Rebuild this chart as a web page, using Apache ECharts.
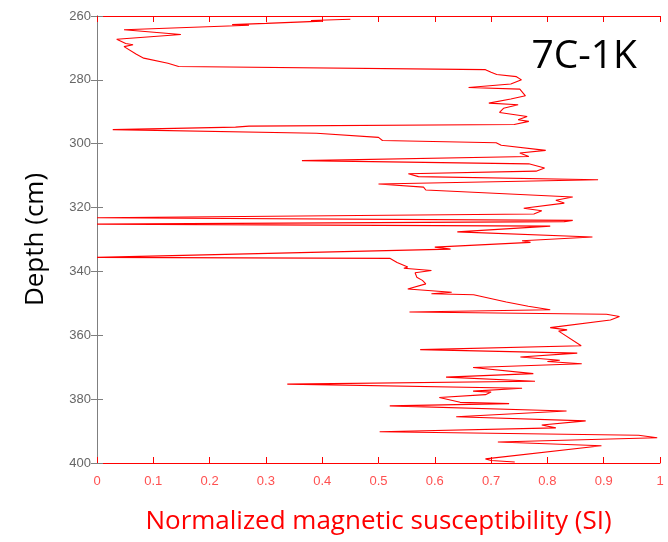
<!DOCTYPE html>
<html>
<head>
<meta charset="utf-8">
<script src="https://cdn.jsdelivr.net/npm/echarts@6/dist/echarts.min.js"></script>
<style>
  html, body { margin: 0; padding: 0; background: #fff; }
  #main { width: 668px; height: 542px; }
</style>
</head>
<body>
<div id="main"></div>
<script>
// 7C-1K core: depth (cm) and normalized susceptibility
var depthCm = [
  261.0, 261.4, 261.6, 262.3, 262.7, 262.9, 264.3, 265.8, 267.3, 268.6,
  269.0, 269.6, 272.0, 273.2, 274.8, 275.8, 276.8, 277.6, 278.3, 279.0,
  280.0, 281.3, 282.4, 282.9, 285.0, 286.0, 287.3, 287.8, 288.9, 290.2,
  291.5, 292.5, 293.0, 294.0, 294.5, 294.8, 295.6, 296.7, 298.0, 299.0,
  299.7, 300.5, 302.1, 302.9, 304.0, 305.3, 306.3, 307.6, 308.6, 309.4,
  310.3, 311.3, 312.6, 313.6, 314.5, 316.7, 317.7, 318.6, 320.2, 321.0,
  322.0, 323.2, 324.0, 324.4, 325.2, 325.8, 327.6, 329.2, 330.4, 330.9,
  332.4, 333.0, 335.6, 335.9, 337.2, 338.6, 339.0, 339.7, 340.4, 341.8,
  342.8, 343.9, 345.5, 346.5, 347.0, 347.3, 349.6, 350.9, 352.0, 352.7,
  353.4, 354.1, 355.2, 357.6, 358.3, 358.7, 363.3, 364.5, 365.6, 366.8,
  367.8, 368.2, 368.9, 370.1, 372.0, 373.1, 374.4, 375.3, 376.6, 377.5,
  377.8, 378.6, 379.5, 381.0, 381.4, 382.1, 383.7, 385.5, 386.8, 388.1,
  389.0, 390.2, 391.3, 392.1, 393.4, 394.6, 398.7, 399.2, 399.7
];
var suscValues = [
  0.45, 0.38, 0.40, 0.30, 0.24, 0.27, 0.048, 0.149, 0.035, 0.051,
  0.064, 0.048, 0.07, 0.083, 0.126, 0.145, 0.69, 0.70, 0.71, 0.745,
  0.754, 0.735, 0.66, 0.751, 0.761, 0.735, 0.696, 0.748, 0.722, 0.715,
  0.764, 0.748, 0.767, 0.741, 0.27, 0.246, 0.028, 0.39, 0.50, 0.507,
  0.709, 0.718, 0.797, 0.751, 0.767, 0.364, 0.767, 0.795, 0.78, 0.553,
  0.571, 0.89, 0.50, 0.58, 0.584, 0.845, 0.815, 0.83, 0.758, 0.79,
  0.776, 0.0, 0.845, 0.83, 0.0, 0.805, 0.64, 0.88, 0.755, 0.77,
  0.60, 0.628, 0.0, 0.52, 0.533, 0.552, 0.545, 0.594, 0.565, 0.568,
  0.578, 0.584, 0.552, 0.63, 0.594, 0.669, 0.727, 0.766, 0.805, 0.555,
  0.905, 0.928, 0.912, 0.805, 0.835, 0.82, 0.86, 0.574, 0.853, 0.752,
  0.822, 0.80, 0.861, 0.668, 0.775, 0.62, 0.778, 0.338, 0.755, 0.668,
  0.70, 0.69, 0.608, 0.645, 0.732, 0.52, 0.834, 0.638, 0.868, 0.79,
  0.815, 0.502, 0.962, 0.995, 0.712, 0.896, 0.69, 0.70, 0.742
];
var xTicks = [0, 0.1, 0.2, 0.3, 0.4, 0.5, 0.6, 0.7, 0.8, 0.9, 1];
var yTicks = [260, 280, 300, 320, 340, 360, 380, 400];

var chart = echarts.init(document.getElementById('main'));

var linePoints = depthCm.map(function (d, i) {
  return [suscValues[i], d];
});

var red = '#ff0000';
var grey = '#7f7f7f';

var option = {
  animation: false,
  grid: { left: 97, right: 8, top: 16, bottom: 79 },
  title: {
    text: '7C-1K',
    right: 26,
    top: 32,
    textStyle: { fontFamily: 'Open Sans', fontSize: 39, fontWeight: 'normal', color: '#000' }
  },
  xAxis: [
    {
      type: 'value',
      position: 'bottom',
      min: xTicks[0],
      max: xTicks[xTicks.length - 1],
      interval: 0.1,
      name: 'Normalized magnetic susceptibility (SI)',
      nameLocation: 'middle',
      nameGap: 46,
      nameTextStyle: { color: red, fontFamily: 'Open Sans', fontSize: 26 },
      axisLine: { lineStyle: { color: red, width: 1 } },
      axisTick: { inside: true, length: 6, lineStyle: { color: red } },
      axisLabel: { color: '#ff5050', fontFamily: 'Liberation Sans', fontSize: 13, margin: 12 },
      splitLine: { show: false }
    },
    {
      type: 'value',
      position: 'top',
      min: xTicks[0],
      max: xTicks[xTicks.length - 1],
      interval: 0.1,
      axisLine: { lineStyle: { color: red, width: 1 } },
      axisTick: { inside: true, length: 6, lineStyle: { color: red } },
      axisLabel: { show: false },
      splitLine: { show: false }
    }
  ],
  yAxis: [
    {
      type: 'value',
      inverse: true,
      min: yTicks[0],
      max: yTicks[yTicks.length - 1],
      interval: 20,
      name: 'Depth (cm)',
      nameLocation: 'middle',
      nameGap: 48,
      nameRotate: 90,
      nameTextStyle: { color: '#000', fontFamily: 'Open Sans', fontSize: 26 },
      axisLine: { lineStyle: { color: grey, width: 1 } },
      axisTick: { inside: true, length: 6, lineStyle: { color: grey } },
      axisLabel: { color: '#666', fontFamily: 'Liberation Sans', fontSize: 13, margin: 6 },
      splitLine: { show: false }
    },
    {
      type: 'value',
      inverse: true,
      position: 'right',
      min: yTicks[0],
      max: yTicks[yTicks.length - 1],
      interval: 20,
      axisLine: { lineStyle: { color: grey, width: 1 } },
      axisTick: { inside: true, length: 6, lineStyle: { color: grey } },
      axisLabel: { show: false },
      splitLine: { show: false }
    }
  ],
  series: [{
    type: 'line',
    xAxisIndex: 0,
    yAxisIndex: 0,
    data: linePoints,
    showSymbol: false,
    smooth: false,
    lineStyle: { color: red, width: 1.1 }
  }]
};

chart.setOption(option);
</script>
</body>
</html>
